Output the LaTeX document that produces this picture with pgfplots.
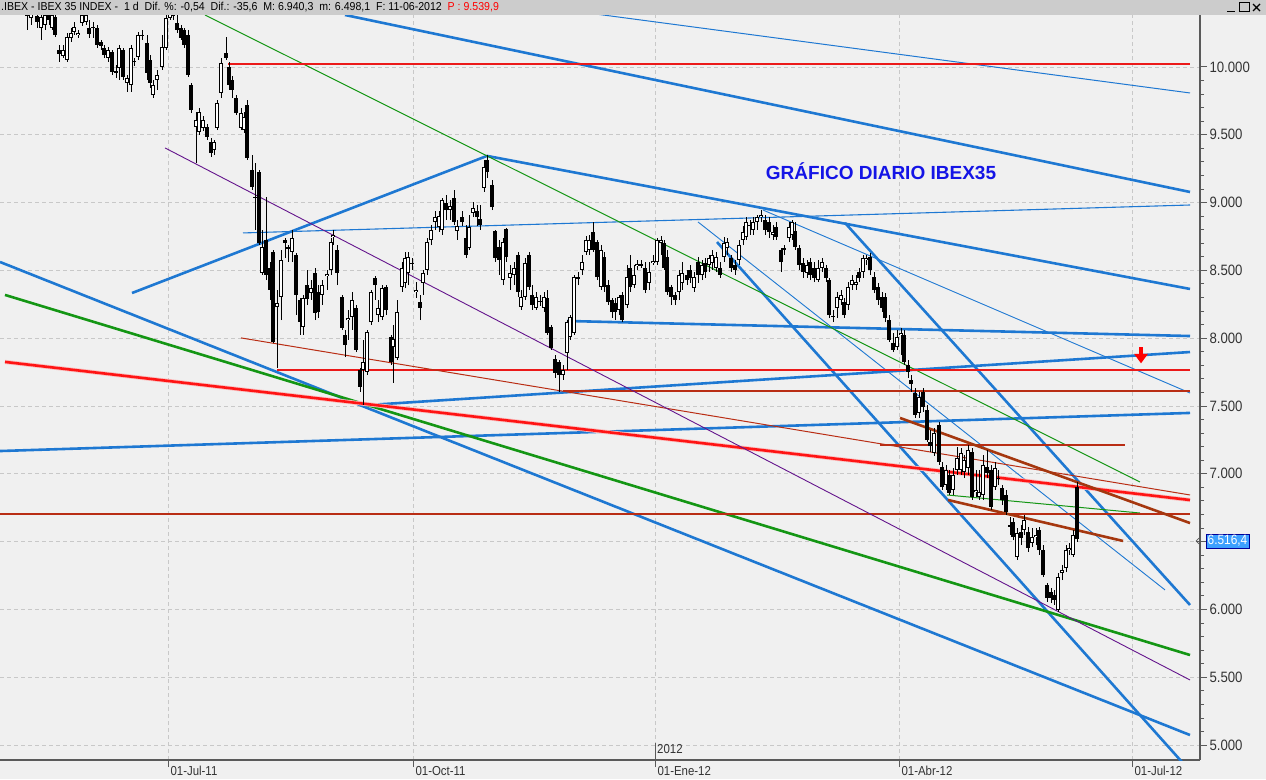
\documentclass[border=0pt]{standalone}
\usepackage{pgfplots}
\pgfplotsset{compat=1.18}
\usepackage{pgfplotstable}
\usepackage{fontspec}
\setmainfont{Liberation Sans}
\newfontfamily\narrowfont[FakeStretch=0.88]{Liberation Sans}
\newfontfamily\headfont[FakeStretch=0.92]{Liberation Sans}
\definecolor{bg}{RGB}{240,240,240}
\definecolor{hdr}{RGB}{204,204,204}
\definecolor{lblue}{RGB}{30,120,210}
\definecolor{lgreen}{RGB}{20,150,20}
\definecolor{lred}{RGB}{255,20,20}
\definecolor{halo}{RGB}{250,190,190}
\definecolor{hred}{RGB}{235,25,25}
\definecolor{dred}{RGB}{185,45,20}
\definecolor{brownL}{RGB}{165,55,15}
\definecolor{purpleL}{RGB}{100,20,140}
\definecolor{gridc}{RGB}{200,200,200}
\definecolor{tagblue}{RGB}{60,160,255}
\definecolor{titleblue}{RGB}{20,20,230}
\definecolor{axc}{RGB}{90,90,90}

\pgfplotstableread{
x o h l c
27 10435 10457 10273 10376
31 10361 10457 10310 10420
37 10376 10391 10288 10332
41 10288 10391 10199 10369
45 10310 10391 10273 10383
49 10383 10391 10310 10347
52 10288 10406 10273 10383
55 10369 10383 10221 10236
59 10125 10162 10037 10096
63 10081 10162 10066 10125
67 10052 10251 10037 10221
71 10214 10288 10184 10251
74 10258 10332 10236 10295
78 10236 10273 10214 10251
82 10324 10406 10302 10383
86 10332 10406 10310 10383
89 10288 10347 10214 10243
93 10295 10332 10214 10288
97 10288 10310 10140 10162
101 10184 10199 10125 10155
104 10140 10162 10066 10088
108 10066 10147 10037 10125
112 10111 10125 9941 9963
116 9970 10015 9919 9956
119 9993 10162 9904 10140
123 10125 10140 9904 9926
127 9882 9941 9816 9919
131 9867 10162 9816 10140
134 10037 10066 10007 10044
138 10074 10258 10052 10236
142 10229 10273 10199 10236
147 10177 10236 9904 9956
150 10052 10088 9845 9882
153 9794 9904 9771 9867
157 9904 9978 9830 9941
162 10000 10236 9978 10147
166 10140 10406 10125 10361
170 10361 10457 10347 10406
173 10376 10457 10347 10420
177 10324 10383 10251 10273
181 10288 10310 10199 10214
184 10273 10288 10140 10162
188 10236 10273 9926 9941
191 9867 9882 9660 9683
196 9558 9668 9292 9609
199 9521 9698 9499 9668
203 9550 9639 9529 9609
207 9558 9580 9462 9484
211 9447 9477 9337 9366
214 9388 9462 9351 9447
217 9550 9757 9535 9735
221 9808 10066 9771 10030
226 10103 10221 10052 10066
229 10000 10037 9830 9867
232 9904 9934 9771 9830
236 9771 9794 9646 9660
241 9550 9698 9535 9660
244 9535 9668 9514 9631
247 9720 9757 9314 9329
252 9240 9351 9093 9116
255 9041 9292 8798 9034
259 9225 9240 8687 8702
262 8481 8798 8467 8673
266 8724 9041 8429 8467
270 8521 8562 8282 8356
273 8636 8651 7965 7972
277 8230 8356 7780 8260
281 8304 8651 8134 8577
285 8724 8738 8592 8702
288 8673 8687 8562 8658
292 8636 8798 8562 8738
296 8614 8629 8171 8319
300 8282 8297 8024 8120
303 8083 8319 8024 8297
307 8392 8503 8245 8289
311 8333 8429 8282 8370
315 8481 8518 8134 8186
318 8341 8392 8149 8193
322 8319 8429 8245 8392
327 8459 8503 8356 8474
331 8503 8738 8467 8709
333 8746 8798 8687 8761
337 8651 8687 8392 8481
342 8304 8319 8061 8075
345 8024 8061 7861 7950
348 8134 8208 7987 8149
352 8157 8341 8061 8282
356 8223 8245 7898 7913
360 7766 7780 7604 7641
363 7766 7987 7508 7825
367 7751 8061 7729 8046
371 8119 8356 8098 8341
375 8444 8459 8282 8392
378 8171 8282 8119 8223
382 8157 8392 8134 8370
386 8378 8392 8171 8208
391 8009 8024 7803 7825
393 7935 8098 7670 7994
397 7854 8282 7839 8193
402 8378 8562 8341 8521
405 8407 8636 8370 8592
408 8481 8636 8392 8599
412 8548 8592 8503 8555
416 8341 8414 8297 8356
420 8267 8319 8134 8223
423 8407 8503 8319 8481
427 8503 8738 8467 8709
431 8724 8835 8687 8798
435 8855 8936 8798 8892
439 8820 8936 8783 8899
442 8798 9034 8761 9019
446 8997 9056 8872 8945
450 8945 9019 8872 8975
454 9034 9093 8835 8856
457 8791 8872 8724 8828
462 8892 8936 8828 8855
466 8738 8835 8592 8614
469 8665 8908 8651 8820
473 8924 9004 8892 8960
477 8936 8982 8828 8892
480 8879 8982 8798 8835
484 9108 9314 9078 9262
487 9314 9351 9181 9225
492 9130 9167 8945 8967
495 8791 8798 8562 8592
499 8673 8724 8467 8577
503 8429 8738 8392 8709
506 8806 8813 8562 8599
510 8444 8540 8356 8481
514 8467 8562 8392 8521
518 8614 8636 8304 8341
521 8230 8356 8208 8304
525 8304 8592 8282 8555
529 8614 8636 8356 8378
532 8319 8392 8208 8245
536 8223 8341 8208 8304
540 8267 8319 8238 8274
544 8223 8341 8193 8304
547 8297 8356 8024 8039
551 8083 8098 7913 7928
555 7847 7876 7707 7744
559 7825 7839 7604 7729
563 7729 7803 7692 7766
567 7891 8134 7766 8119
570 8009 8171 7987 8157
574 8039 8467 8024 8451
578 8437 8489 8392 8451
582 8503 8614 8467 8562
586 8636 8754 8614 8724
589 8651 8761 8614 8724
593 8783 8855 8636 8651
597 8709 8724 8429 8451
601 8378 8687 8356 8651
604 8599 8636 8341 8378
608 8392 8429 8245 8267
612 8282 8297 8149 8193
615 8260 8297 8134 8193
619 8208 8319 8171 8304
622 8319 8341 8119 8134
627 8245 8540 8223 8451
630 8521 8614 8341 8378
634 8392 8540 8370 8467
637 8533 8577 8503 8548
641 8548 8577 8518 8533
645 8518 8562 8333 8356
649 8407 8562 8356 8489
653 8555 8614 8540 8570
657 8562 8738 8540 8724
661 8702 8754 8614 8724
664 8702 8724 8503 8521
667 8599 8651 8319 8341
671 8378 8392 8245 8304
675 8319 8341 8245 8282
679 8341 8503 8282 8467
682 8407 8562 8356 8481
687 8467 8503 8392 8429
690 8503 8540 8407 8444
694 8370 8489 8341 8451
698 8562 8599 8407 8467
702 8467 8577 8429 8540
705 8555 8592 8444 8489
709 8540 8614 8489 8592
712 8555 8651 8503 8614
716 8521 8636 8489 8599
720 8521 8562 8444 8467
724 8599 8746 8562 8702
727 8665 8738 8614 8709
731 8592 8614 8489 8518
735 8540 8577 8467 8503
739 8577 8724 8540 8687
743 8724 8828 8687 8783
746 8746 8892 8724 8856
750 8828 8872 8761 8835
753 8798 8892 8761 8856
757 8856 8908 8798 8892
761 8892 8945 8856 8908
765 8872 8908 8761 8798
769 8856 8892 8738 8783
773 8761 8835 8724 8783
776 8820 8856 8724 8746
781 8651 8665 8489 8562
784 8665 8687 8614 8651
789 8738 8856 8709 8820
792 8761 8872 8724 8855
795 8791 8856 8651 8673
799 8665 8687 8503 8540
803 8555 8592 8444 8489
807 8481 8577 8444 8540
810 8562 8592 8429 8467
814 8521 8562 8414 8444
818 8429 8577 8414 8521
822 8521 8592 8489 8562
826 8518 8540 8414 8444
829 8429 8444 8149 8171
833 8164 8208 8119 8157
837 8223 8341 8149 8304
841 8282 8356 8245 8319
844 8267 8297 8149 8171
848 8245 8414 8208 8378
852 8392 8467 8356 8429
856 8392 8467 8356 8414
859 8489 8518 8414 8444
863 8489 8614 8444 8592
866 8577 8614 8540 8592
870 8599 8629 8467 8503
874 8451 8489 8333 8356
878 8378 8407 8245 8282
882 8304 8341 8193 8223
885 8304 8333 8119 8149
889 8134 8171 7972 7987
893 7965 8039 7898 7913
897 7935 8061 7913 8009
901 8024 8075 7876 8039
904 8024 8061 7803 7825
908 7803 7839 7707 7751
911 7692 7729 7604 7663
915 7596 7633 7412 7434
919 7449 7604 7412 7566
923 7604 7633 7456 7493
927 7471 7508 7235 7249
930 7235 7323 7161 7205
934 7154 7338 7132 7302
939 7360 7382 7066 7088
942 7051 7088 6881 6904
946 6918 7066 6881 7029
949 6992 7029 6844 6859
953 6881 7043 6844 6992
957 7029 7198 6992 7117
961 7029 7191 6992 7154
964 7014 7139 6970 7102
968 7043 7213 6992 7176
972 7161 7191 6807 6830
976 6866 7029 6830 6881
979 6830 7029 6807 6866
983 6844 7139 6807 7066
987 7051 7176 6970 7007
991 7029 7066 6733 6755
995 6904 7088 6881 7043
998 6963 7029 6918 6970
1002 6896 6918 6770 6807
1006 6844 6881 6697 6719
1010 6623 6682 6549 6608
1013 6645 6674 6512 6534
1017 6387 6601 6365 6564
1021 6571 6623 6475 6527
1024 6586 6697 6549 6660
1028 6571 6608 6424 6453
1032 6490 6601 6460 6534
1036 6534 6601 6475 6549
1039 6586 6608 6402 6438
1043 6438 6475 6239 6254
1047 6180 6195 6055 6084
1051 6128 6158 6047 6084
1054 6106 6143 6033 6070
1058 5996 6268 5981 6239
1062 6268 6327 6217 6290
1066 6305 6475 6276 6438
1069 6438 6490 6402 6453
1073 6402 6586 6387 6549
1077 6903 6940 6498 6516
}\candles

\begin{document}
\begin{tikzpicture}[x=1pt,y=1pt]
\fill[bg] (0,-19) rectangle (1266,760);
\useasboundingbox (0,-19) rectangle (1266,760);
\begin{axis}[
  at={(0,0)}, anchor=south west,
  width=1200pt, height=745pt, scale only axis,
  xmin=0, xmax=1200, ymin=4890, ymax=10383,
  axis x line*=bottom, axis y line*=right,
  xtick pos=bottom, ytick pos=right, yticklabel pos=right,
  axis line style={-, draw=axc, line width=1.2pt},
  tick align=outside,
  tick style={draw=axc, line width=0.9pt},
  major tick length=7pt, minor tick length=4pt,
  xtick={168,413,655,899,1132},
  xticklabels={01-Jul-11,01-Oct-11,01-Ene-12,01-Abr-12,01-Jul-12},
  ytick={5000,5500,...,10000},
  yticklabels={5.000,5.500,6.000,,7.000,7.500,8.000,8.500,9.000,9.500,10.000},
  minor y tick num=4,
  xmajorgrids, ymajorgrids,
  major grid style={gridc, dash pattern=on 4pt off 3pt, line width=0.8pt},
  xticklabel style={font=\narrowfont\fontsize{13}{13}\selectfont, text=black!80, anchor=north west, xshift=-1pt, yshift=4pt},
  yticklabel style={font=\narrowfont\fontsize{15}{15}\selectfont, text=black!80, anchor=west, xshift=-1pt},
]
% --- trend lines ---
\addplot[lblue, line width=2.6pt] coordinates {(345,10383) (1190,9078)};
\addplot[lblue, line width=1pt] coordinates {(595,10391) (1190,9808)};
\addplot[lblue, line width=2.6pt] coordinates {(487,9344) (1190,8363)};
\addplot[lblue, line width=2.6pt] coordinates {(132,8333) (487,9344)};
\addplot[lblue, line width=1.1pt] coordinates {(243,8776) (1190,8982)};
\addplot[lblue, line width=2.6pt] coordinates {(567,8127) (1190,8016)};
\addplot[lblue, line width=2.6pt] coordinates {(370,7508) (1190,7898)};
\addplot[lblue, line width=2.6pt] coordinates {(0,7168) (1190,7449)};
\addplot[lblue, line width=2.6pt] coordinates {(0,8562) (1190,5074)};
\addplot[lblue, line width=2.6pt] coordinates {(717,8709) (1182,4875)};
\addplot[lblue, line width=2.6pt] coordinates {(845,8850) (1190,6033)};
\addplot[lblue, line width=0.9pt] coordinates {(698,8857) (1165,6144)};
\addplot[lblue, line width=0.9pt] coordinates {(763,8945) (1190,7596)};
\addplot[lgreen, line width=1pt] coordinates {(205,10383) (1140,6940)};
\addplot[lgreen, line width=1pt] coordinates {(947,6844) (1140,6711)};
\addplot[lgreen, line width=2.6pt] coordinates {(5,8319) (1190,5664)};
\addplot[halo, line width=4.2pt] coordinates {(5,7825) (1190,6807)};
\addplot[lred, line width=2.6pt] coordinates {(5,7825) (1190,6807)};
\addplot[hred, line width=1.3pt] coordinates {(228,10022) (1190,10022)};
\addplot[hred, line width=1.3pt] coordinates {(277,7766) (1190,7766)};
\addplot[dred, line width=1.2pt] coordinates {(563,7611) (1190,7611)};
\addplot[dred, line width=1.2pt] coordinates {(0,6704) (1190,6704)};
\addplot[dred, line width=1.2pt] coordinates {(880,7213) (1125,7213)};
\addplot[dred, line width=1pt] coordinates {(241,8002) (1190,6844)};
\addplot[brownL, line width=2.6pt] coordinates {(900,7412) (1190,6637)};
\addplot[brownL, line width=2.6pt] coordinates {(948,6807) (1123,6505)};
\addplot[purpleL, line width=0.9pt] coordinates {(165,9403) (1190,5480)};
% --- candlesticks ---
\addplot[draw=none, mark=none, error bars/.cd, y dir=plus, y explicit, error mark=none,
  error bar style={draw=black, line width=1pt}]
  table[x=x, y=l, y error plus expr={\thisrow{h}-\thisrow{l}}] {\candles};
\addplot[draw=none, mark=none, error bars/.cd, y dir=plus, y explicit, error mark=none,
  error bar style={draw=black, line width=3.4pt}]
  table[x=x, y expr={min(\thisrow{o},\thisrow{c})}, y error plus expr={abs(\thisrow{o}-\thisrow{c})}] {\candles};
\addplot[draw=none, mark=none, error bars/.cd, y dir=plus, y explicit, error mark=none,
  error bar style={draw=white, line width=1.4pt}]
  table[x=x, y expr={\thisrow{o}+7.4}, y error plus expr={max(\thisrow{c}-\thisrow{o}-14.8,0)}] {\candles};
% red arrow
\fill[red] (axis cs:1139,7935) rectangle (axis cs:1143,7880);
\fill[red] (axis cs:1134,7885) -- (axis cs:1148,7885) -- (axis cs:1141,7815) -- cycle;
\end{axis}
% header bar
\fill[hdr] (0,745) rectangle (1266,760);
\node[anchor=west, inner sep=0pt, font=\headfont\fontsize{11.5}{12}\selectfont] at (1,752.5)
 {.IBEX - IBEX 35 INDEX - \ 1 d \ Dif. \%: -0,54 \ Dif.: -35,6 \ M: 6.940,3 \ m: 6.498,1 \ F: 11-06-2012 \ \textcolor{red}{P : 9.539,9}};
% window buttons
\draw[black, line width=1.6pt] (1227,748.5) -- (1235,748.5);
\draw[black, line width=1pt] (1239,748) rectangle (1249,757);
\draw[black, line width=1.3pt] (1253,749) -- (1260,756) (1253,756) -- (1260,749);
% title
\node[font=\bfseries\fontsize{19}{19}\selectfont, text=titleblue] at (881,589) {GRÁFICO DIARIO IBEX35};
% 2012 marker
\draw[axc, line width=0.8pt] (655,0) -- (655,17);
\node[anchor=south west, inner sep=0pt, font=\narrowfont\fontsize{13}{13}\selectfont, text=black!80] at (657,6) {2012};
% current value tag
\node[fill=tagblue, draw=blue!60!black, text=white, inner sep=1.5pt, anchor=west, font=\narrowfont\fontsize{13.5}{13.5}\selectfont] at (1206,219) {6.516,4};
\draw[axc, line width=0.7pt] (1196,219) -- (1205,219);
\draw[axc, line width=0.7pt] (1199,222) -- (1196,219) -- (1199,216);
\end{tikzpicture}
\end{document}
